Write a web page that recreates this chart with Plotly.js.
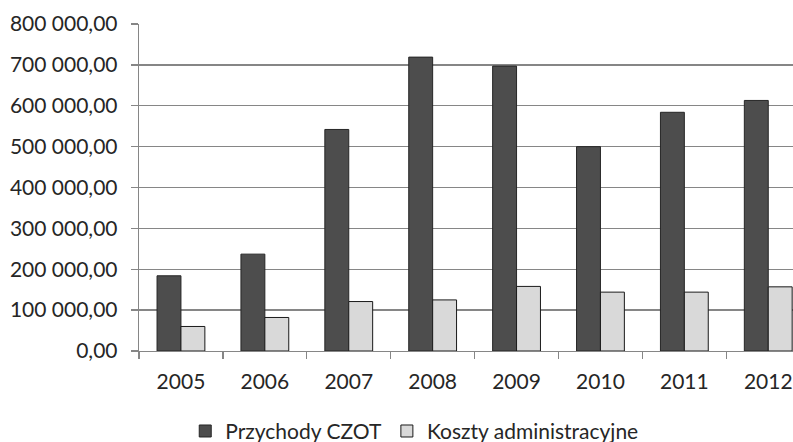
<!DOCTYPE html>
<html>
<head>
<meta charset="utf-8">
<script src="https://cdn.plot.ly/plotly-3.0.1.min.js"></script>
<style>html,body{margin:0;padding:0;background:#fff;}#chart{width:793px;height:442px;}</style>
</head>
<body>
<div id="chart"></div>
<script>
var years = ['2005','2006','2007','2008','2009','2010','2011','2012'];
var przychody = [184000, 237000, 542000, 719000, 697000, 500000, 584000, 613000];
var koszty = [60000, 82000, 121000, 125000, 158000, 144000, 144000, 157000];
var seriesNames = ['Przychody CZOT', 'Koszty administracyjne'];
var yTicks = [0, 100000, 200000, 300000, 400000, 500000, 600000, 700000, 800000];

var fam = 'Lato, "Open Sans", sans-serif';
var txt = '#262626';

var data = [
  {type: 'bar', x: years, y: przychody, name: seriesNames[0],
   marker: {color: '#4d4d4d', line: {color: '#262626', width: 1}}},
  {type: 'bar', x: years, y: koszty, name: seriesNames[1],
   marker: {color: '#d9d9d9', line: {color: '#1a1a1a', width: 1}}}
];

var layout = {
  width: 793, height: 442,
  margin: {l: 139, r: 0, t: 24, b: 91, autoexpand: false},
  paper_bgcolor: '#fff', plot_bgcolor: '#fff',
  separators: ', ',
  font: {family: fam, size: 20, color: txt},
  barmode: 'group', bargap: 0.43, bargroupgap: 0,
  showlegend: true,
  legend: {orientation: 'h', x: 0.0707, xanchor: 'left', y: -0.183, yanchor: 'top',
           font: {family: fam, size: 21, color: txt}, traceorder: 'normal'},
  xaxis: {type: 'category', range: [-0.5, 7.295], tickson: 'boundaries',
          ticks: 'outside', ticklen: 7, tickcolor: '#868686', tickwidth: 1.3,
          ticklabelstandoff: 11,
          showline: true, linecolor: '#868686', linewidth: 1.3,
          showgrid: false, tickfont: {family: fam, size: 21, color: txt}, fixedrange: true},
  yaxis: {range: [0, 800000], tickvals: yTicks, tickformat: ',.2f',
          ticks: 'outside', ticklen: 7, tickcolor: '#868686', tickwidth: 1.3,
          ticklabelstandoff: 9,
          showline: true, linecolor: '#868686', linewidth: 1.3,
          showgrid: true, gridcolor: '#868686', gridwidth: 1.3,
          zeroline: false, tickfont: {family: fam, size: 21, color: txt}, fixedrange: true}
};

Plotly.newPlot('chart', data, layout, {displayModeBar: false, staticPlot: true});
</script>
</body>
</html>
